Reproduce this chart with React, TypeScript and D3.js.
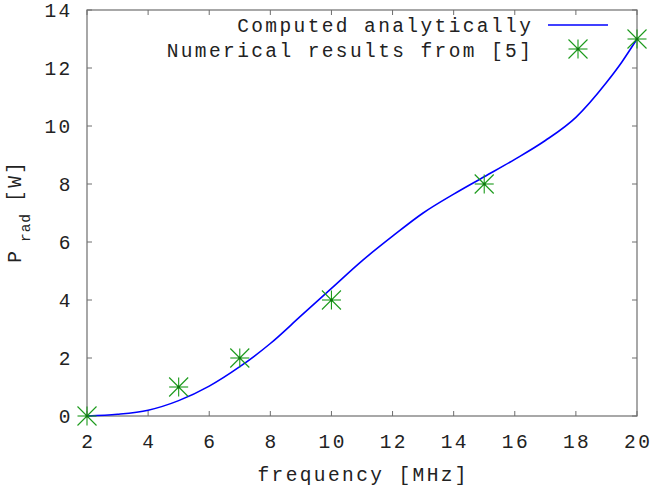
import { useEffect, useRef } from 'react';
import * as d3 from 'd3';

// analytic curve
const curveFreq = [2, 3, 4, 5, 6, 7, 8, 9, 10, 11, 12, 13, 14, 15, 16, 17, 18, 19, 19.5, 20];
const curvePower = [0, 0.06, 0.2, 0.53, 1.03, 1.7, 2.5, 3.45, 4.4, 5.35, 6.2, 7.0, 7.65, 8.25, 8.85, 9.5, 10.3, 11.5, 12.2, 13.0];

// numerical results from [5]
const numFreq = [2, 5, 7, 10, 15, 20];
const numPower = [0, 1, 2, 4, 8, 13];

const xTicks = [2, 4, 6, 8, 10, 12, 14, 16, 18, 20];
const yTicks = [0, 2, 4, 6, 8, 10, 12, 14];

const seriesLabels = ['Computed analytically', 'Numerical results from [5]'];

const FONT = "'Liberation Mono', 'Courier New', monospace";
const FS = 19.5;
const CELL = 14.1; // courier grid of the original
const AXIS = '#6e6e6e';
const BLUE = '#0000ff';
const GREEN = '#1a9a1a';

export default function App() {
  const svgRef = useRef<SVGSVGElement>(null);

  useEffect(() => {
    if (!svgRef.current) return;
    const svg = d3.select(svgRef.current);
    svg.selectAll('*').remove();

    const width = 652;
    const height = 491;
    const margin = { top: 10, right: 15, bottom: 75, left: 87 };
    svg.attr('width', width).attr('height', height);

    const x = d3.scaleLinear().domain([2, 20]).range([margin.left, width - margin.right]);
    const y = d3.scaleLinear().domain([0, 14]).range([height - margin.bottom, margin.top]);

    // text laid on a fixed character grid; anchor is start / middle / end of the grid
    const mono = (parent: any, str: string, ax: number, ay: number, anchor: string, size = FS, cell = CELL) => {
      const n = str.length;
      const start = anchor === 'end' ? ax - n * cell : anchor === 'middle' ? ax - (n * cell) / 2 : ax;
      const xs = str.split('').map((_, i) => (start + (i + 0.5) * cell).toFixed(1)).join(' ');
      return parent.append('text')
        .attr('font-family', FONT).attr('font-size', size).attr('fill', '#222')
        .attr('text-anchor', 'middle')
        .attr('x', xs).attr('y', ay)
        .text(str);
    };

    // frame
    svg.append('rect')
      .attr('x', x(2)).attr('y', y(14))
      .attr('width', x(20) - x(2)).attr('height', y(0) - y(14))
      .attr('fill', 'none').attr('stroke', AXIS).attr('stroke-width', 1.2);

    const tl = 5;
    // x ticks, mirrored on top
    xTicks.forEach(t => {
      svg.append('line').attr('x1', x(t)).attr('x2', x(t)).attr('y1', y(0)).attr('y2', y(0) - tl)
        .attr('stroke', AXIS);
      svg.append('line').attr('x1', x(t)).attr('x2', x(t)).attr('y1', y(14)).attr('y2', y(14) + tl)
        .attr('stroke', AXIS);
      mono(svg, String(t), x(t), 448, 'middle');
    });
    // y ticks, mirrored on right
    yTicks.forEach(t => {
      svg.append('line').attr('x1', x(2)).attr('x2', x(2) + tl).attr('y1', y(t)).attr('y2', y(t))
        .attr('stroke', AXIS);
      svg.append('line').attr('x1', x(20)).attr('x2', x(20) - tl).attr('y1', y(t)).attr('y2', y(t))
        .attr('stroke', AXIS);
      mono(svg, String(t), 71.5, y(t) + 7, 'end');
    });

    // axis titles
    mono(svg, 'frequency [MHz]', (x(2) + x(20)) / 2, 481, 'middle');

    // y title, drawn in a rotated frame: P, subscript rad, then [W]
    const yl = svg.append('g').attr('transform', 'translate(21,0) rotate(-90)');
    mono(yl, 'P', -257, 0, 'middle');
    mono(yl, 'rad', -228, 9, 'middle', 14.5, 9.6);
    mono(yl, '[W]', -182, 0, 'middle');

    // analytic curve
    const pts = curveFreq.map((f, i) => [f, curvePower[i]] as [number, number]);
    const line = d3.line<[number, number]>()
      .x(d => x(d[0])).y(d => y(d[1]))
      .curve(d3.curveMonotoneX);
    svg.append('path').datum(pts)
      .attr('d', line)
      .attr('fill', 'none').attr('stroke', BLUE).attr('stroke-width', 1.6);

    // asterisk marker
    const star = (cx: number, cy: number) => {
      const r = 9.5;
      const g = svg.append('g').attr('stroke', GREEN).attr('stroke-width', 1.1);
      g.append('line').attr('x1', cx - r).attr('x2', cx + r).attr('y1', cy).attr('y2', cy);
      g.append('line').attr('x1', cx).attr('x2', cx).attr('y1', cy - r).attr('y2', cy + r);
      g.append('line').attr('x1', cx - r).attr('x2', cx + r).attr('y1', cy - r).attr('y2', cy + r);
      g.append('line').attr('x1', cx - r).attr('x2', cx + r).attr('y1', cy + r).attr('y2', cy - r);
      g.append('circle').attr('cx', cx).attr('cy', cy).attr('r', 1.6).attr('fill', '#117711').attr('stroke', 'none');
    };
    numFreq.forEach((f, i) => star(x(f), y(numPower[i])));

    // legend
    mono(svg, seriesLabels[0], 532, 32, 'end');
    svg.append('line').attr('x1', 548).attr('x2', 608).attr('y1', 25).attr('y2', 25)
      .attr('stroke', BLUE).attr('stroke-width', 1.6);
    mono(svg, seriesLabels[1], 532, 57, 'end');
    star(578, 49);
  }, []);

  return (
    <svg ref={svgRef} style={{ position: 'absolute', left: 0, top: 0, background: 'white' }} />
  );
}
